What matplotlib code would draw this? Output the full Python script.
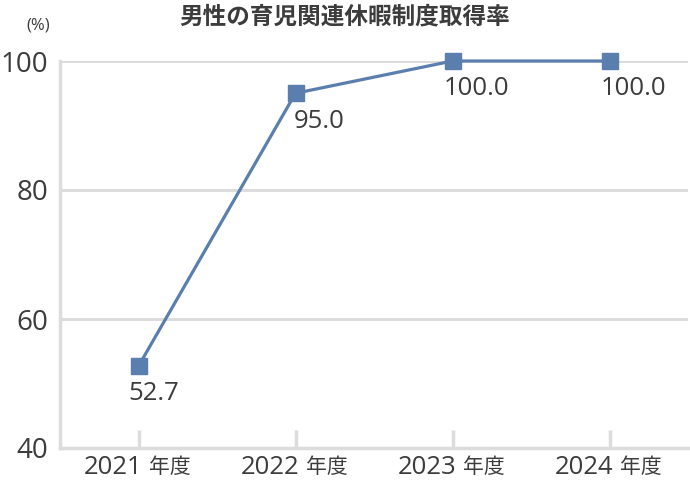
import matplotlib.pyplot as plt

plt.rcParams['font.family'] = ['Open Sans', 'Noto Sans CJK JP', 'DejaVu Sans']

years = ['2021', '2022', '2023', '2024']
year_suffix = '年度'
rates = [52.7, 95.0, 100.0, 100.0]
y_ticks = [40, 60, 80, 100]
# label offsets in points (dx, dy) relative to each marker
label_offsets = [(-7, -20), (-1.5, -20), (-6.5, -20), (-6.5, -20)]

line_color = '#5a7fae'
grid_color = '#dcdcdc'
text_color = '#3c3c3c'

fig = plt.figure(figsize=(6.9, 4.8), dpi=100)
ax = fig.add_axes([60 / 690, 32 / 480, 628 / 690, 387 / 480])

x = list(range(len(years)))
ax.plot(x, rates, color=line_color, linewidth=2.3, marker='s',
        markersize=11, zorder=3, clip_on=False)

for xi, val, (dx, dy) in zip(x, rates, label_offsets):
    ax.annotate(f'{val:.1f}', (xi, val), xytext=(dx, dy), textcoords='offset points',
                ha='left', va='center', fontsize=18.5, color=text_color)

ax.set_xlim(-0.5, 3.5)
ax.set_ylim(40, 100)
ax.set_yticks(y_ticks)
ax.set_xticks(x)
ax.set_xticklabels([])

# x labels: year digits and the CJK suffix are different sizes in the original
for xi, yr in zip(x, years):
    ax.annotate(yr, (xi, 0), xycoords=('data', 'axes fraction'), xytext=(3, -14),
                textcoords='offset points', ha='right', va='center',
                fontsize=18.5, color=text_color)
    ax.annotate(year_suffix, (xi, 0), xycoords=('data', 'axes fraction'), xytext=(7.5, -14),
                textcoords='offset points', ha='left', va='center',
                fontsize=15, color=text_color, family='Noto Sans CJK JP')

for v in y_ticks[1:]:
    ax.axhline(v, color=grid_color, linewidth=2.2, zorder=1)

for side in ['top', 'right']:
    ax.spines[side].set_visible(False)
for side in ['left', 'bottom']:
    ax.spines[side].set_color(grid_color)
    ax.spines[side].set_linewidth(2.5)

ax.tick_params(axis='x', direction='in', length=13, width=2.5, color=grid_color)
ax.tick_params(axis='y', length=0, labelsize=20, labelcolor=text_color, pad=8.5)

fig.text(0.5, 1 - 17 / 480, '男性の育児関連休暇制度取得率', ha='center', va='center',
         fontsize=17, fontweight='bold', color=text_color)
fig.text(38 / 690, 1 - 25 / 480, '(%)', ha='center', va='center',
         fontsize=12, color=text_color)

fig.savefig('out.png', dpi=100)
